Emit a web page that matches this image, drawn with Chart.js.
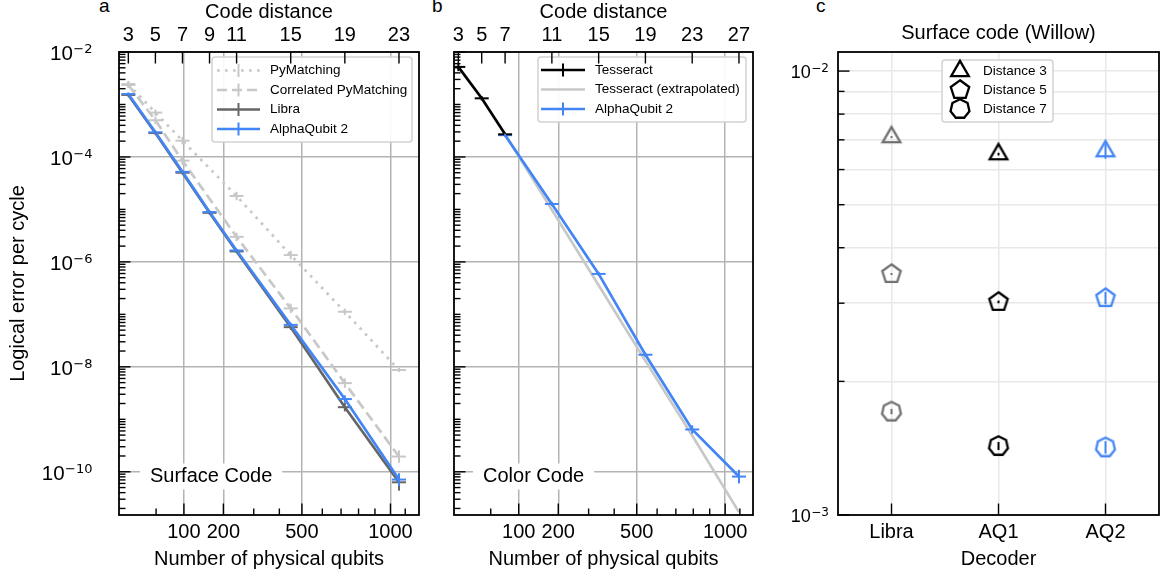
<!DOCTYPE html>
<html lang="en">
<head>
<meta charset="UTF-8">
<title>Logical error per cycle</title>
<script src="https://cdn.jsdelivr.net/npm/chart.js"></script>
<style>
  html, body { margin: 0; padding: 0; background: #fff; }
  body { position: relative; width: 1169px; height: 576px; overflow: hidden;
         font-family: "Liberation Sans", Arial, Helvetica, sans-serif; }
  canvas { position: absolute; top: 0; }
  .panel-letter { position: absolute; top: -4px; font-size: 19px; line-height: 19px; color: #000; }
</style>
</head>
<body>

<div class="panel-letter" style="left:99px">a</div>
<div class="panel-letter" style="left:432px">b</div>
<div class="panel-letter" style="left:816px">c</div>

<canvas id="chartSurface" width="430" height="576" style="left:0"></canvas>
<canvas id="chartColor" width="340" height="576" style="left:430px"></canvas>
<canvas id="chartWillow" width="399" height="576" style="left:770px"></canvas>

<script>
  // === Panel a : surface code ===
  const distSurface = [3, 5, 7, 9, 11, 15, 19, 23];
  const aq2Surface      = [1.58e-3, 2.95e-4, 5.2e-5, 8.9e-6, 1.65e-6, 6.3e-8, 2.43e-9, 7.1e-11];
  const libraSurface    = [1.52e-3, 2.85e-4, 5.0e-5, 8.6e-6, 1.58e-6, 5.7e-8, 1.7e-9, 6.3e-11];
  const aq2SurfaceErr   = [0.03, 0.03, 0.03, 0.03, 0.03, 0.04, 0.07, 0.12];   // demi-barre, en décades
  const libraSurfaceErr = [0.03, 0.03, 0.03, 0.03, 0.03, 0.05, 0.08, 0.16];
  const distMatching = [3, 5, 7, 11, 15, 19, 23];
  const pyMatching        = [2.45e-3, 7.0e-4, 2.04e-4, 1.8e-5, 1.35e-6, 1.12e-7, 8.7e-9];
  const corrPyMatching    = [2.35e-3, 5.0e-4, 8.5e-5, 3.0e-6, 1.3e-7, 4.9e-9, 1.95e-10];
  const pyMatchingErr     = [0.06, 0.06, 0.07, 0.08, 0.08, 0.06, 0.04];
  const corrPyMatchingErr = [0.06, 0.07, 0.08, 0.08, 0.09, 0.09, 0.12];

  // === Panel b : color code ===
  const distTesseract = [3, 5, 7];
  const tesseract     = [5.2e-3, 1.31e-3, 2.7e-4];
  const tesseractErr  = [0.08, 0.04, 0.03];
  const distExtrap      = [7, 11, 15, 19, 23, 27];
  const tesseractExtrap = [2.7e-4, 9.8e-6, 3.6e-7, 1.3e-8, 4.9e-10, 1.7e-11];
  const distColor   = [7, 11, 15, 19, 23, 27];
  const aq2Color    = [2.6e-4, 1.27e-5, 5.9e-7, 1.7e-8, 6.4e-10, 8.1e-11];
  const aq2ColorErr = [0.03, 0.04, 0.04, 0.04, 0.08, 0.13];

  // === Panel c : Willow ===
  const decoders = ["Libra", "AQ1", "AQ2"];
  const willowD3 = [7.1e-3, 6.5e-3, 6.6e-3];
  const willowD5 = [3.49e-3, 3.02e-3, 3.08e-3];
  const willowD7 = [1.71e-3, 1.43e-3, 1.42e-3];
  const willowD3Err = [0.002, 0.003, 0.017];
  const willowD5Err = [0.002, 0.003, 0.014];
  const willowD7Err = [0.006, 0.009, 0.014];

  // === Axes ===
  const distTicksSurface = [3, 5, 7, 9, 11, 15, 19, 23];
  const distTicksColor   = [3, 5, 7, 11, 15, 19, 23, 27];
  const qubitTicks      = [100, 200, 500, 1000];
  const qubitMinorTicks = [50, 300, 400, 600, 700, 800, 900, 1100];
  const yLabelsAB = [1e-2, 1e-4, 1e-6, 1e-8, 1e-10];
  const yLabelsC  = [1e-3, 1e-2];

  // === Couleurs ===
  const BLUE = "#4285f4", DARK = "#666666", LIGHT = "#c8c8c8";
  const GRID = "#b3b3b3", GRID_C = "#e8e8e8";
  const decoderColors = ["#707070", "#000000", BLUE];
  const FONT = '"Liberation Sans", Arial, Helvetica, sans-serif';

  Chart.defaults.font.family = FONT;
  Chart.defaults.font.size = 20;
  Chart.defaults.color = "#000";

  const surfaceD = n => Math.sqrt((n + 1) / 2);   // qubits -> distance (surface)
  const colorD = n => Math.sqrt(2 * n / 3);       // qubits -> distance (color)
  const toXY = (xs, ys) => xs.map((x, i) => ({ x, y: ys[i] }));
  const isOn = (v, list) => list.some(l => Math.abs(Math.log10(v) - Math.log10(l)) < 1e-6);

  function logTicks(min, max) {
    const out = [];
    for (let k = Math.floor(Math.log10(min)); k <= Math.ceil(Math.log10(max)); k++) {
      for (let n = 1; n <= 9; n++) {
        const v = n * Math.pow(10, k);
        if (v >= min * 0.999 && v <= max * 1.001) out.push(v);
      }
    }
    return out;
  }

  function polygonImage(sides, color, r) {
    const c = document.createElement("canvas");
    c.width = c.height = 26;
    const g = c.getContext("2d");
    g.strokeStyle = color;
    g.lineWidth = 2.3;
    g.beginPath();
    for (let k = 0; k < sides; k++) {
      const a = -Math.PI / 2 + k * 2 * Math.PI / sides;
      const px = 13 + r * Math.cos(a), py = 13 + r * Math.sin(a);
      if (k) g.lineTo(px, py); else g.moveTo(px, py);
    }
    g.closePath();
    g.stroke();
    return c;
  }

  // === Plugins ===
  const errorBars = {
    id: "errorBars",
    afterDatasetsDraw(chart) {
      const { ctx, chartArea: a } = chart;
      ctx.save();
      ctx.beginPath();
      ctx.rect(a.left, a.top, a.right - a.left, a.bottom - a.top);
      ctx.clip();
      ctx.lineWidth = 2;
      chart.data.datasets.forEach((ds, di) => {
        if (!ds.errorBars) return;
        const meta = chart.getDatasetMeta(di);
        const ys = chart.scales[meta.yAxisID];
        meta.data.forEach((pt, i) => {
          const raw = ds.data[i];
          const v = typeof raw === "object" ? raw.y : raw;
          const f = Math.pow(10, ds.errorBars[i]);
          let y1 = ys.getPixelForValue(v * f), y2 = ys.getPixelForValue(v / f);
          if (y2 - y1 < 2) { y1 = pt.y - 1; y2 = pt.y + 1; }
          ctx.strokeStyle = Array.isArray(ds.errorColor) ? ds.errorColor[i] : ds.borderColor;
          ctx.beginPath();
          ctx.moveTo(pt.x, y1);
          ctx.lineTo(pt.x, y2);
          ctx.stroke();
        });
      });
      ctx.restore();
    }
  };

  // étiquettes 10^n : "10" + exposant plus petit et surélevé
  function powLabels(scaleId, values, gap, size) {
    return {
      id: "powLabels",
      afterDraw(chart) {
        const { ctx, chartArea: a } = chart;
        const sc = chart.scales[scaleId];
        const expSize = Math.round(size * 0.64);
        ctx.save();
        ctx.fillStyle = "#000";
        ctx.textBaseline = "alphabetic";
        ctx.textAlign = "right";
        values.forEach(v => {
          const p = sc.getPixelForValue(v);
          const e = Math.round(Math.log10(v));
          const exp = (e < 0 ? "\u2212" : "") + String(Math.abs(e));
          const xr = a.left - gap;
          ctx.font = expSize + 'px "DejaVu Sans", sans-serif';
          const w = ctx.measureText(exp).width;
          ctx.fillText(exp, xr, p + size * 0.06);
          ctx.font = size + "px " + FONT;
          ctx.fillText("10", xr - w - 0.5, p + size * 0.38);
        });
        ctx.restore();
      }
    };
  }

  function boxLabel(text, x, y) {
    return {
      id: "boxLabel",
      afterDatasetsDraw(chart) {
        const ctx = chart.ctx;
        ctx.save();
        ctx.font = "20px " + FONT;
        const w = ctx.measureText(text).width;
        ctx.fillStyle = "#fff";
        ctx.fillRect(x - 10, y - 13, w + 20, 26);
        ctx.fillStyle = "#000";
        ctx.textBaseline = "middle";
        ctx.fillText(text, x, y);
        ctx.restore();
      }
    };
  }

  function legendBox(box) {
    return {
      id: "legendBox",
      afterDraw(chart) {
        const ctx = chart.ctx;
        ctx.save();
        ctx.beginPath();
        ctx.roundRect(box.x, box.y, box.w, box.h, 3);
        ctx.fillStyle = "rgba(255,255,255,0.92)";
        ctx.fill();
        ctx.strokeStyle = "#d2d2d2";
        ctx.lineWidth = 1.5;
        ctx.stroke();
        ctx.font = "13.5px " + FONT;
        ctx.textBaseline = "middle";
        chart.data.datasets.forEach((ds, i) => {
          const y = box.y0 + i * box.step;
          if (box.images) {
            const img = box.images[i];
            ctx.drawImage(img, box.mx - img.width / 2, y - img.height / 2);
          } else {
            ctx.strokeStyle = ds.borderColor;
            ctx.lineWidth = 2.7;
            ctx.setLineDash(ds.borderDash || []);
            ctx.beginPath();
            ctx.moveTo(box.x1, y);
            ctx.lineTo(box.x2, y);
            ctx.stroke();
            ctx.setLineDash([]);
            if (ds.errorBars) {
              const cx = (box.x1 + box.x2) / 2;
              ctx.lineWidth = 2;
              ctx.beginPath();
              ctx.moveTo(cx, y - 6.5);
              ctx.lineTo(cx, y + 6.5);
              ctx.stroke();
            }
          }
          ctx.fillStyle = "#000";
          ctx.fillText(ds.label, box.tx, y);
        });
        ctx.restore();
      }
    };
  }

  function axesFrame(spec) {
    return {
      id: "axesFrame",
      afterDraw(chart) {
        const { ctx, chartArea: a } = chart;
        ctx.save();
        ctx.strokeStyle = "#000";
        ctx.lineWidth = 1.4;
        spec.forEach(s => {
          const sc = chart.scales[s.scale];
          [[s.major, 11.5], [s.minor || [], 6.5]].forEach(([vals, len]) => {
            vals.forEach(v => {
              const p = sc.getPixelForValue(v);
              ctx.beginPath();
              if (s.side === "left") {
                if (p < a.top - 0.5 || p > a.bottom + 0.5) return;
                ctx.moveTo(a.left, p);
                ctx.lineTo(a.left + len, p);
              } else {
                if (p < a.left - 0.5 || p > a.right + 0.5) return;
                const y0 = s.side === "top" ? a.top : a.bottom;
                ctx.moveTo(p, y0);
                ctx.lineTo(p, s.side === "top" ? y0 + len : y0 - len);
              }
              ctx.stroke();
            });
          });
        });
        ctx.lineWidth = 1.8;
        ctx.strokeRect(a.left, a.top, a.right - a.left, a.bottom - a.top);
        ctx.restore();
      }
    };
  }

  // === Axes communs a / b ===
  const Y_MIN_AB = 1.5e-11, Y_MAX_AB = 1e-2;
  const yAllAB = logTicks(Y_MIN_AB, Y_MAX_AB);
  const yMinorAB = yAllAB.filter(v => !isOn(v, yLabelsAB));

  function panelScales(xMin, xMax, distTicks, qToD, yWidth, showTitle) {
    return {
      x: {
        type: "linear", position: "top", min: xMin, max: xMax, bounds: "data",
        afterBuildTicks: s => { s.ticks = distTicks.map(v => ({ value: v })); },
        afterFit: s => { s.height = 52; },
        ticks: { autoSkip: false, maxRotation: 0, padding: 5, callback: v => String(v) },
        grid: { display: false, drawTicks: false },
        border: { display: false },
        title: { display: true, text: "Code distance", padding: { top: 0, bottom: 0 } }
      },
      xq: {
        type: "linear", position: "bottom", min: xMin, max: xMax, bounds: "data",
        afterBuildTicks: s => { s.ticks = qubitTicks.map(n => ({ value: qToD(n) })); },
        afterFit: s => { s.height = 61; },
        ticks: { autoSkip: false, maxRotation: 0, padding: 5, callback: (v, i) => String(qubitTicks[i]) },
        grid: { drawTicks: false, color: GRID, lineWidth: 1.5 },
        border: { display: false },
        title: { display: true, text: "Number of physical qubits", padding: { top: 0, bottom: 5 } }
      },
      y: {
        type: "logarithmic", position: "left", min: Y_MIN_AB, max: Y_MAX_AB, bounds: "data",
        afterBuildTicks: s => { s.ticks = yAllAB.map(v => ({ value: v })); },
        afterFit: s => { s.width = yWidth; },
        ticks: { display: false },
        grid: { drawTicks: false, lineWidth: 1.5,
                color: c => (c.tick && isOn(c.tick.value, yLabelsAB)) ? GRID : "rgba(0,0,0,0)" },
        border: { display: false },
        title: { display: showTitle, text: "Logical error per cycle", padding: { top: 6, bottom: 0 } }
      }
    };
  }

  const baseOptions = {
    responsive: false,
    animation: false,
    events: [],
    devicePixelRatio: 1,
    plugins: { legend: { display: false }, tooltip: { enabled: false } }
  };

  function series(label, xs, ys, errs, color, extra) {
    return Object.assign({
      label, data: toXY(xs, ys), errorBars: errs,
      borderColor: color, borderWidth: 2.7, fill: false, tension: 0,
      pointStyle: "line", pointRadius: 7, pointBorderWidth: 2,
      pointBorderColor: color, pointBackgroundColor: color
    }, extra || {});
  }

  // === Panel a ===
  new Chart(document.getElementById("chartSurface"), {
    type: "line",
    data: {
      datasets: [
        series("PyMatching", distMatching, pyMatching, pyMatchingErr, LIGHT, { borderDash: [2.7, 5.3], order: 3 }),
        series("Correlated PyMatching", distMatching, corrPyMatching, corrPyMatchingErr, LIGHT, { borderDash: [10, 5], order: 2 }),
        series("Libra", distSurface, libraSurface, libraSurfaceErr, DARK, { order: 1 }),
        series("AlphaQubit 2", distSurface, aq2Surface, aq2SurfaceErr, BLUE, { order: 0 })
      ]
    },
    options: Object.assign({}, baseOptions, {
      layout: { padding: { left: 0, right: 11, top: 0, bottom: 0 } },
      scales: panelScales(2.31, 24.48, distTicksSurface, surfaceD, 119, true)
    }),
    plugins: [
      errorBars,
      boxLabel("Surface Code", 150, 476.5),
      legendBox({ x: 212, y: 57, w: 200, h: 85, y0: 70.5, step: 19.5, x1: 217, x2: 260, tx: 270 }),
      axesFrame([
        { scale: "y", side: "left", major: yLabelsAB, minor: yMinorAB },
        { scale: "x", side: "top", major: distTicksSurface },
        { scale: "xq", side: "bottom", major: qubitTicks.map(surfaceD), minor: qubitMinorTicks.map(surfaceD) }
      ]),
      powLabels("y", yLabelsAB, 26.5, 20.5)
    ]
  });

  // === Panel b ===
  new Chart(document.getElementById("chartColor"), {
    type: "line",
    data: {
      datasets: [
        series("Tesseract", distTesseract, tesseract, tesseractErr, "#000000", { order: 0 }),
        series("Tesseract (extrapolated)", distExtrap, tesseractExtrap, null, LIGHT, { pointRadius: 0, order: 2 }),
        series("AlphaQubit 2", distColor, aq2Color, aq2ColorErr, BLUE, { order: 1 })
      ]
    },
    options: Object.assign({}, baseOptions, {
      layout: { padding: { left: 0, right: 17, top: 0, bottom: 0 } },
      scales: panelScales(2.63, 28.2, distTicksColor, colorD, 24, false)
    }),
    plugins: [
      errorBars,
      boxLabel("Color Code", 53, 476.5),
      legendBox({ x: 108, y: 57, w: 208, h: 65, y0: 70, step: 19.5, x1: 111, x2: 155, tx: 165 }),
      axesFrame([
        { scale: "y", side: "left", major: yLabelsAB, minor: yMinorAB },
        { scale: "x", side: "top", major: distTicksColor },
        { scale: "xq", side: "bottom", major: qubitTicks.map(colorD), minor: qubitMinorTicks.map(colorD) }
      ])
    ]
  });

  // === Panel c ===
  const Y_MIN_C = 1e-3, Y_MAX_C = 0.01104;
  const yAllC = logTicks(Y_MIN_C, Y_MAX_C);
  const shapes = [3, 5, 7];
  const markerImgs = shapes.map(n => decoderColors.map(col => polygonImage(n, col, n === 3 ? 10.2 : 9.7)));
  const legendImgs = shapes.map(n => polygonImage(n, "#000", n === 3 ? 10.2 : 9.7));

  function willowSet(label, values, errs, k) {
    return {
      label, data: values, errorBars: errs, errorColor: decoderColors,
      borderColor: "#000", showLine: false,
      pointStyle: markerImgs[k], pointRadius: 9
    };
  }

  new Chart(document.getElementById("chartWillow"), {
    type: "line",
    data: {
      labels: decoders,
      datasets: [
        willowSet("Distance 3", willowD3, willowD3Err, 0),
        willowSet("Distance 5", willowD5, willowD5Err, 1),
        willowSet("Distance 7", willowD7, willowD7Err, 2)
      ]
    },
    options: Object.assign({}, baseOptions, {
      layout: { padding: { left: 0, right: 1, top: 0, bottom: 0 } },
      scales: {
        x: {
          type: "category", position: "bottom", offset: true,
          afterFit: s => { s.height = 61; },
          ticks: { padding: 5, maxRotation: 0 },
          grid: { offset: false, drawTicks: false, color: GRID_C, lineWidth: 1.5 },
          border: { display: false },
          title: { display: true, text: "Decoder", padding: { top: 0, bottom: 5 } }
        },
        xt: {
          type: "category", position: "top", offset: true,
          afterFit: s => { s.height = 52; },
          ticks: { display: false },
          grid: { display: false, drawTicks: false },
          border: { display: false },
          title: { display: true, text: "Surface code (Willow)", padding: { top: 21, bottom: 0 } }
        },
        y: {
          type: "logarithmic", position: "left", min: Y_MIN_C, max: Y_MAX_C, bounds: "data",
          afterBuildTicks: s => { s.ticks = yAllC.map(v => ({ value: v })); },
          afterFit: s => { s.width = 68; },
          ticks: { display: false },
          grid: { drawTicks: false, color: GRID_C, lineWidth: 1.5 },
          border: { display: false }
        }
      }
    }),
    plugins: [
      errorBars,
      legendBox({ x: 172, y: 60, w: 111, h: 62, y0: 71, step: 19, mx: 190, tx: 213, images: legendImgs }),
      axesFrame([
        { scale: "y", side: "left", major: yLabelsC, minor: yAllC.filter(v => !isOn(v, yLabelsC)) },
        { scale: "x", side: "bottom", major: [0, 1, 2] }
      ]),
      powLabels("y", yLabelsC, 9, 18)
    ]
  });
</script>

</body>
</html>
